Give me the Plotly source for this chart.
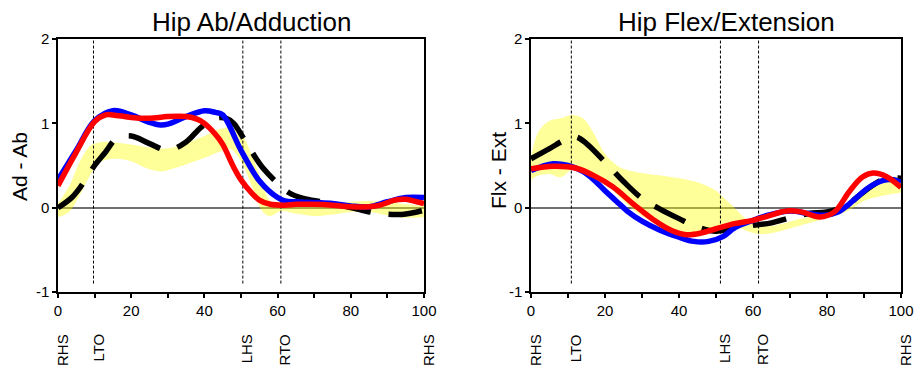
import plotly.graph_objects as go

# ---------------- Hip Ab/Adduction ----------------
abd_band_x = [0, 3, 6, 9, 12, 16, 20, 24, 28, 32, 36, 40, 44, 47, 50, 53, 56, 58, 61, 65, 70, 75, 80, 85, 90, 95, 100]
abd_band_hi = [0.05, 0.25, 0.55, 0.74, 0.78, 0.77, 0.75, 0.72, 0.70, 0.72, 0.78, 0.85, 0.93, 0.95, 0.88, 0.62, 0.28,
               0.08, 0.06, 0.03, 0.02, 0.04, 0.07, 0.08, 0.07, 0.04, 0.02]
abd_band_lo = [-0.11, -0.05, 0.15, 0.40, 0.55, 0.58, 0.55, 0.47, 0.43, 0.47, 0.53, 0.59, 0.66, 0.70, 0.55, 0.25, -0.05,
               -0.10, -0.04, -0.07, -0.10, -0.08, -0.05, -0.05, -0.09, -0.12, -0.11]

abd_norm_x = [0, 4, 7.5, 10, 13, 16, 20, 25, 30, 35, 39, 43, 46, 48, 51, 53, 56, 60, 63, 67, 72, 77, 83, 88, 94, 100]
abd_norm_y = [0.0, 0.13, 0.33, 0.50, 0.66, 0.82, 0.85, 0.76, 0.68, 0.78, 0.95, 1.06, 1.06, 1.00, 0.80, 0.66, 0.47,
              0.29, 0.18, 0.11, 0.07, 0.03, -0.03, -0.07, -0.08, -0.03]

abd_left_x = [0, 5, 10, 15, 20, 25, 28, 30, 35, 40, 43, 45, 50, 55, 60, 62, 65, 70, 75, 80, 85, 90, 95, 100]
abd_left_y = [0.33, 0.68, 1.03, 1.15, 1.10, 1.01, 0.98, 0.99, 1.08, 1.15, 1.13, 1.10, 0.68, 0.32, 0.12, 0.08, 0.07,
              0.06, 0.05, 0.02, 0.01, 0.07, 0.12, 0.12]

abd_right_x = [0, 5, 10, 13, 15, 20, 25, 30, 35, 38, 40, 43, 45, 48, 50, 53, 55, 58, 62, 65, 70, 75, 80, 85, 88, 92,
               95, 98, 100]
abd_right_y = [0.26, 0.66, 1.02, 1.10, 1.10, 1.07, 1.06, 1.08, 1.08, 1.05, 1.00, 0.87, 0.75, 0.48, 0.33, 0.17, 0.09,
               0.04, 0.03, 0.04, 0.04, 0.03, 0.01, 0.01, 0.03, 0.09, 0.10, 0.07, 0.05]

abd_events_x = [0, 9.7, 50.5, 60.9, 100]

# ---------------- Hip Flex/Extension ----------------
flx_band_x = [0, 2, 5, 8, 11, 14, 17, 20, 24, 30, 35, 40, 45, 50, 52, 55, 58, 61, 64, 68, 72, 77, 82, 86, 90, 95, 100]
flx_band_hi = [0.60, 0.90, 1.03, 1.06, 1.10, 1.06, 0.88, 0.64, 0.48, 0.41, 0.38, 0.35, 0.30, 0.20, 0.12, 0.0, -0.13,
               -0.20, -0.22, -0.19, -0.14, -0.10, -0.06, 0.0, 0.17, 0.34, 0.37]
flx_band_lo = [0.33, 0.38, 0.40, 0.36, 0.45, 0.44, 0.38, 0.30, 0.12, -0.10, -0.20, -0.27, -0.30, -0.27, -0.24, -0.22,
               -0.27, -0.31, -0.31, -0.27, -0.22, -0.16, -0.10, -0.03, 0.08, 0.14, 0.18]

flx_norm_x = [0, 5, 9, 12, 15, 20, 25, 30, 35, 40, 45, 50, 55, 60, 65, 70, 75, 80, 85, 90, 95, 100]
flx_norm_y = [0.58, 0.70, 0.80, 0.84, 0.76, 0.54, 0.31, 0.11, -0.02, -0.13, -0.23, -0.28, -0.24, -0.21, -0.18,
              -0.12, -0.07, -0.05, 0.02, 0.19, 0.33, 0.35]

flx_left_x = [0, 3, 6, 10, 14, 17, 20, 23, 26, 30, 35, 40, 44, 48, 52, 55, 60, 64, 70, 75, 79, 83, 87, 91, 95, 98, 100]
flx_left_y = [0.44, 0.49, 0.52, 0.50, 0.43, 0.33, 0.20, 0.08, -0.04, -0.16, -0.27, -0.35, -0.40, -0.40, -0.34, -0.24,
              -0.15, -0.09, -0.04, -0.07, -0.09, -0.05, 0.08, 0.23, 0.32, 0.33, 0.30]

flx_right_x = [0, 6, 12, 17, 22, 28, 33, 38, 42, 46, 50, 55, 60, 64, 69, 73, 78, 82, 86, 89.5, 92.5, 96, 100]
flx_right_y = [0.46, 0.49, 0.47, 0.38, 0.25, 0.03, -0.14, -0.27, -0.32, -0.30, -0.25, -0.19, -0.15, -0.10, -0.04,
               -0.05, -0.11, -0.05, 0.19, 0.36, 0.41, 0.37, 0.24]

flx_events_x = [0, 10.9, 51.2, 61.5, 100]

event_labels = ["RHS", "LTO", "LHS", "RTO", "RHS"]
titles = ["Hip Ab/Adduction", "Hip Flex/Extension"]
y_titles = ["Ad - Ab", "Flx - Ext"]
x_ticks = list(range(0, 101, 10))
x_ticktext = [str(v) if v % 20 == 0 else "" for v in x_ticks]
y_ticks = [-1, 0, 1, 2]
y_ticktext = ["-1", "0", "1", "2"]

FONT = "Liberation Sans, Arial, sans-serif"
W, H = 917, 367

panels = [
    dict(xa="x", ya="y", band=(abd_band_x, abd_band_hi, abd_band_lo), norm=(abd_norm_x, abd_norm_y),
         left=(abd_left_x, abd_left_y), right=(abd_right_x, abd_right_y), events=abd_events_x,
         domain=(58, 424), title_cx=251, ytitle_cx=20, ytitle_cy=167),
    dict(xa="x2", ya="y2", band=(flx_band_x, flx_band_hi, flx_band_lo), norm=(flx_norm_x, flx_norm_y),
         left=(flx_left_x, flx_left_y), right=(flx_right_x, flx_right_y), events=flx_events_x,
         domain=(531, 901), title_cx=726, ytitle_cx=498, ytitle_cy=171),
]

fig = go.Figure()
annotations = []

for i, p in enumerate(panels):
    bx, bhi, blo = p["band"]
    # normal range band
    fig.add_trace(go.Scatter(x=bx, y=blo, mode="lines", line=dict(width=0, shape="spline"),
                             xaxis=p["xa"], yaxis=p["ya"], showlegend=False, hoverinfo="skip"))
    fig.add_trace(go.Scatter(x=bx, y=bhi, mode="lines", line=dict(width=0, shape="spline"),
                             fill="tonexty", fillcolor="rgba(255,255,0,0.40)",
                             xaxis=p["xa"], yaxis=p["ya"], showlegend=False, hoverinfo="skip"))
    # gait event markers
    for ex in p["events"][1:-1]:
        fig.add_trace(go.Scatter(x=[ex, ex], y=[-0.9, 2], mode="lines",
                                 line=dict(color="black", width=1, dash="3px,2px"),
                                 xaxis=p["xa"], yaxis=p["ya"], showlegend=False, hoverinfo="skip"))
    # normal mean
    nx, ny = p["norm"]
    fig.add_trace(go.Scatter(x=nx, y=ny, mode="lines",
                             line=dict(color="black", width=5.5, dash="34px,18px", shape="spline"),
                             xaxis=p["xa"], yaxis=p["ya"], showlegend=False))
    # left side
    lx, ly = p["left"]
    fig.add_trace(go.Scatter(x=lx, y=ly, mode="lines",
                             line=dict(color="#0000FF", width=5.5, shape="spline"),
                             xaxis=p["xa"], yaxis=p["ya"], showlegend=False))
    # right side
    rx, ry = p["right"]
    fig.add_trace(go.Scatter(x=rx, y=ry, mode="lines",
                             line=dict(color="#FF0000", width=5.5, shape="spline"),
                             xaxis=p["xa"], yaxis=p["ya"], showlegend=False))

    # titles
    annotations.append(dict(text=titles[i], x=p["title_cx"] / W, y=1 - 22 / H, xref="paper", yref="paper",
                            xanchor="center", yanchor="middle", showarrow=False,
                            font=dict(family=FONT, size=26, color="black")))
    annotations.append(dict(text=y_titles[i], x=p["ytitle_cx"] / W, y=1 - p["ytitle_cy"] / H,
                            xref="paper", yref="paper", xanchor="center", yanchor="middle",
                            textangle=-90, showarrow=False,
                            font=dict(family=FONT, size=21, color="black")))
    # event labels under the axis
    for ex, lab in zip(p["events"], event_labels):
        annotations.append(dict(text=lab, x=ex, y=1 - 332 / H, xref=p["xa"], yref="paper",
                                xanchor="center", yanchor="top", textangle=-90, showarrow=False,
                                xshift=4, font=dict(family=FONT, size=15, color="black")))

axis_common = dict(showline=True, linecolor="black", linewidth=1.5, mirror=True, ticks="outside",
                   ticklen=4, tickcolor="black", tickwidth=1.5, showgrid=False, automargin=False,
                   tickfont=dict(family=FONT, size=15, color="black"))

layout = dict(width=W, height=H, autosize=False, margin=dict(l=0, r=0, t=0, b=0, pad=0),
              plot_bgcolor="white", paper_bgcolor="white", annotations=annotations)

for i, p in enumerate(panels):
    sfx = "" if i == 0 else str(i + 1)
    x0, x1 = p["domain"]
    layout["xaxis" + sfx] = dict(axis_common, domain=[x0 / W, x1 / W], range=[0, 100], tickvals=x_ticks,
                                 ticktext=x_ticktext, zeroline=False, anchor="y" + sfx)
    layout["yaxis" + sfx] = dict(axis_common, domain=[1 - 292 / H, 1 - 39 / H], range=[-1, 2],
                                 tickvals=y_ticks, ticktext=y_ticktext, zeroline=True,
                                 zerolinecolor="#707070", zerolinewidth=1.5, anchor="x" + sfx)

fig.update_layout(**layout)
fig.write_html("out.html")
